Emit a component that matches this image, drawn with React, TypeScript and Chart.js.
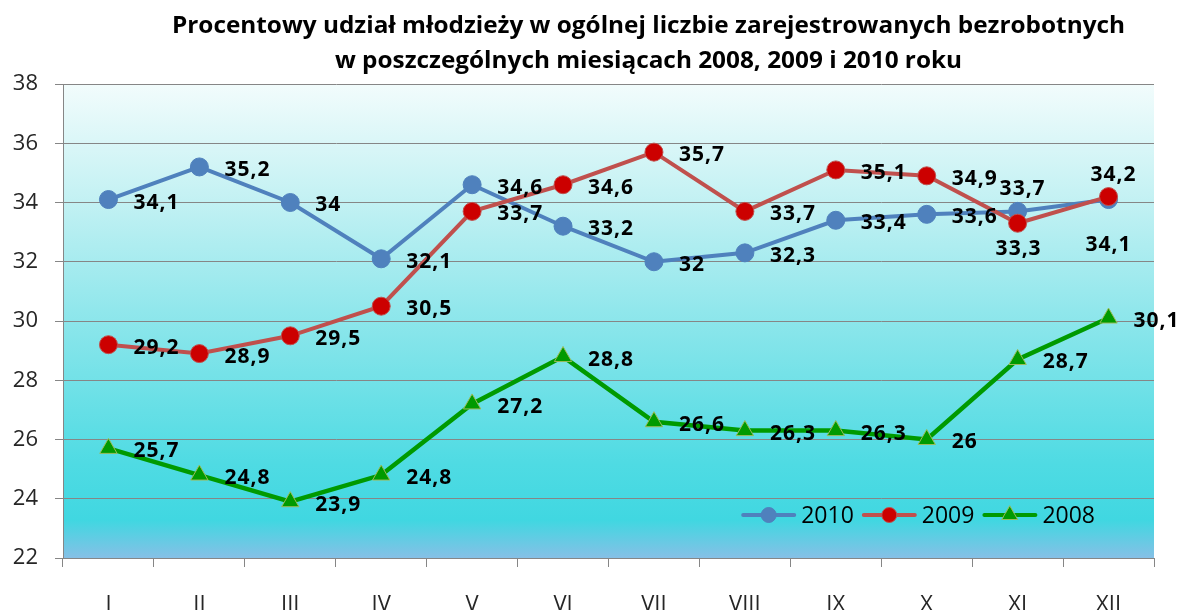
import React, { useEffect, useRef } from 'react';
import { Chart, registerables } from 'chart.js';

Chart.register(...registerables);

const months = ['I', 'II', 'III', 'IV', 'V', 'VI', 'VII', 'VIII', 'IX', 'X', 'XI', 'XII'];
const values2010 = [34.1, 35.2, 34, 32.1, 34.6, 33.2, 32, 32.3, 33.4, 33.6, 33.7, 34.1];
const values2009 = [29.2, 28.9, 29.5, 30.5, 33.7, 34.6, 35.7, 33.7, 35.1, 34.9, 33.3, 34.2];
const values2008 = [25.7, 24.8, 23.9, 24.8, 27.2, 28.8, 26.6, 26.3, 26.3, 26, 28.7, 30.1];
const seriesNames = ['2010', '2009', '2008'];
const yMin = 22;
const yMax = 38;
const yStep = 2;
const titleLines = [
  'Procentowy udział młodzieży w ogólnej liczbie zarejestrowanych bezrobotnych',
  'w poszczególnych miesiącach 2008, 2009 i 2010 roku',
];

// label placement exceptions: [datasetIndex][pointIndex]
const labelPlacement: Record<number, Record<number, string>> = {
  0: { 10: 'above', 11: 'belowFar' },
  1: { 10: 'below', 11: 'above' },
};

const fmt = (v: number) => String(v).replace('.', ',');

const bgPlugin = {
  id: 'plotBg',
  beforeDraw(chart: any) {
    const { ctx, chartArea } = chart;
    const { left, right, top, bottom } = chartArea;
    const h = bottom - top;
    const g = ctx.createLinearGradient(0, top, 0, bottom);
    g.addColorStop(0, '#f2fcfc');
    g.addColorStop(0.25, '#c2f1f3');
    g.addColorStop(0.5, '#8ce6eb');
    g.addColorStop(0.8, '#4fdbe3');
    g.addColorStop(0.92, '#40d7e1');
    g.addColorStop(1, '#86c0e6');
    ctx.save();
    ctx.fillStyle = g;
    ctx.fillRect(left, top, right - left, h);
    ctx.restore();
  },
};

const labelsPlugin = {
  id: 'pointLabels',
  afterDatasetsDraw(chart: any) {
    const ctx = chart.ctx;
    ctx.save();
    ctx.font = 'bold 21px "Open Sans"';
    try { (ctx as any).letterSpacing = '1px'; } catch (e) {}
    ctx.fillStyle = '#000000';
    chart.data.datasets.forEach((ds: any, di: number) => {
      const meta = chart.getDatasetMeta(di);
      meta.data.forEach((pt: any, i: number) => {
        const text = fmt(ds.data[i]);
        const place = (labelPlacement[di] && labelPlacement[di][i]) || 'right';
        ctx.textBaseline = 'middle';
        if (place === 'right') {
          ctx.textAlign = 'left';
          ctx.fillText(text, pt.x + 25, pt.y + 3);
        } else if (place === 'above') {
          ctx.textAlign = 'center';
          ctx.fillText(text, pt.x + 5, pt.y - 22);
        } else if (place === 'below') {
          ctx.textAlign = 'center';
          ctx.fillText(text, pt.x + 1, pt.y + 26);
        } else {
          ctx.textAlign = 'center';
          ctx.fillText(text, pt.x, pt.y + 45);
        }
      });
    });
    ctx.restore();
  },
};

const legendPlugin = {
  id: 'insideLegend',
  afterDatasetsDraw(chart: any) {
    const { ctx, chartArea } = chart;
    ctx.save();
    ctx.font = '23px "Open Sans"';
    const lineLen = 55;
    const gapText = 5;
    const gapItem = 8;
    const items = [0, 1, 2].map((di) => {
      const ds = chart.data.datasets[di];
      return { ds, w: ctx.measureText(ds.label).width };
    });
    const total = items.reduce((s, it) => s + lineLen + gapText + it.w, 0) + gapItem * (items.length - 1);
    let x = chartArea.right - 59 - total;
    const y = chartArea.bottom - 43;
    items.forEach(({ ds, w }) => {
      ctx.strokeStyle = ds.borderColor;
      ctx.lineWidth = 4;
      ctx.lineCap = 'round';
      ctx.beginPath();
      ctx.moveTo(x + 2, y);
      ctx.lineTo(x + lineLen - 2, y);
      ctx.stroke();
      const mx = x + lineLen / 2;
      ctx.fillStyle = ds.pointBackgroundColor;
      ctx.strokeStyle = ds.pointBorderColor;
      ctx.lineWidth = 1;
      ctx.beginPath();
      if (ds.pointStyle === 'triangle') {
        const r = 9;
        ctx.moveTo(mx, y - r);
        ctx.lineTo(mx + r * 0.866, y + r * 0.5);
        ctx.lineTo(mx - r * 0.866, y + r * 0.5);
        ctx.closePath();
      } else {
        ctx.arc(mx, y, 7.5, 0, Math.PI * 2);
      }
      ctx.fill();
      ctx.stroke();
      ctx.fillStyle = '#000000';
      ctx.textAlign = 'left';
      ctx.textBaseline = 'middle';
      ctx.fillText(ds.label, x + lineLen + gapText, y + 1);
      x += lineLen + gapText + w + gapItem;
    });
    ctx.restore();
  },
};

const titlePlugin = {
  id: 'customTitle',
  afterDraw(chart: any) {
    const { ctx, chartArea } = chart;
    ctx.save();
    ctx.font = 'bold 23px "Open Sans"';
    ctx.fillStyle = '#000000';
    ctx.textAlign = 'center';
    ctx.textBaseline = 'middle';
    const cx = (chartArea.left + chartArea.right) / 2 + 40;
    const w1 = ctx.measureText(titleLines[0]).width;
    const sx = 953 / w1;
    titleLines.forEach((t, i) => {
      ctx.save();
      ctx.translate(cx, 26 + i * 35);
      ctx.scale(sx, 1);
      ctx.fillText(t, 0, 0);
      ctx.restore();
    });
    ctx.restore();
  },
};

export default function App() {
  const ref = useRef<HTMLCanvasElement | null>(null);

  useEffect(() => {
    if (!ref.current) return;
    const chart = new Chart(ref.current, {
      type: 'line',
      data: {
        labels: months,
        datasets: [
          {
            label: seriesNames[0],
            data: values2010,
            borderColor: '#4f81bd',
            backgroundColor: '#4f81bd',
            pointBackgroundColor: '#4f81bd',
            pointBorderColor: '#4f81bd',
            pointStyle: 'circle',
            pointRadius: 9,
            pointBorderWidth: 1,
            borderWidth: 4,
            tension: 0,
            order: 2,
          },
          {
            label: seriesNames[1],
            data: values2009,
            borderColor: '#c0504d',
            backgroundColor: '#c0504d',
            pointBackgroundColor: '#cc0000',
            pointBorderColor: '#c0504d',
            pointStyle: 'circle',
            pointRadius: 9,
            pointBorderWidth: 1,
            borderWidth: 4,
            tension: 0,
            order: 1,
          },
          {
            label: seriesNames[2],
            data: values2008,
            borderColor: '#009a00',
            backgroundColor: '#009a00',
            pointBackgroundColor: '#009a00',
            pointBorderColor: '#9bbb59',
            pointStyle: 'triangle',
            pointRadius: 10,
            pointBorderWidth: 1,
            borderWidth: 4.5,
            tension: 0,
            order: 0,
          },
        ] as any,
      },
      options: {
        animation: false,
        responsive: false,
        layout: { padding: { top: 84, right: 28, left: 0, bottom: 0 } },
        plugins: {
          legend: { display: false },
          title: { display: false },
          tooltip: { enabled: false },
        },
        scales: {
          x: {
            type: 'category',
            offset: true,
            grid: {
              offset: true,
              drawOnChartArea: false,
              tickLength: 9,
              color: '#868686',
              lineWidth: 1,
            },
            border: { display: true, color: '#868686', width: 1 },
            ticks: {
              padding: 25,
              autoSkip: false,
              maxRotation: 0,
              color: '#262626',
              font: { family: '"Open Sans"', size: 22 },
            },
            afterFit: (s: any) => {
              s.height = 52;
            },
          },
          y: {
            min: yMin,
            max: yMax,
            ticks: {
              stepSize: yStep,
              padding: 17,
              color: '#262626',
              font: { family: '"Open Sans"', size: 22 },
            },
            grid: { color: '#868686', lineWidth: 1, tickLength: 8 },
            border: { display: true, color: '#868686', width: 1 },
            afterFit: (s: any) => {
              s.width = 63;
            },
          },
        },
      } as any,
      plugins: [bgPlugin, labelsPlugin, legendPlugin, titlePlugin],
    });
    return () => chart.destroy();
  }, []);

  return (
    <div style={{ position: 'fixed', left: 0, top: 0, width: 1182, height: 610, background: '#ffffff' }}>
      <canvas ref={ref} width={1182} height={610} style={{ display: 'block' }} />
    </div>
  );
}
